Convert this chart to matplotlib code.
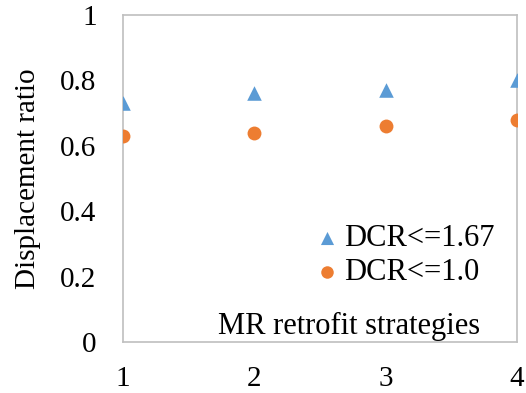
import matplotlib
matplotlib.use("Agg")
import matplotlib.pyplot as plt

strategies = [1, 2, 3, 4]
dcr_167 = [0.73, 0.76, 0.77, 0.80]
dcr_10 = [0.63, 0.64, 0.66, 0.68]
y_ticks = [0, 0.2, 0.4, 0.6, 0.8, 1]
y_tick_labels = ["0", "0.2", "0.4", "0.6", "0.8", "1"]

plt.rcParams['font.family'] = ['Liberation Serif', 'DejaVu Serif']
FS = 21

fig = plt.figure(figsize=(5.26, 3.93), dpi=100)
ax = fig.add_axes([123/526, 1 - 342/393, (517 - 123)/526, (342 - 15)/393])

ax.scatter(strategies, dcr_167, marker='^', s=110, color='#5B9BD5', label='DCR<=1.67', zorder=3, linewidths=0)
ax.scatter(strategies, dcr_10, marker='o', s=100, color='#ED7D31', label='DCR<=1.0', zorder=3, linewidths=0)

ax.set_xlim(1, 4)
ax.set_ylim(0, 1)
ax.set_xticks(strategies)
ax.set_yticks(y_ticks)
ax.set_yticklabels(y_tick_labels)
ax.tick_params(axis='y', length=0, labelsize=FS, pad=19)
ax.tick_params(axis='x', length=0, labelsize=FS, pad=17)

for sp in ax.spines.values():
    sp.set_color('#BFBFBF')
    sp.set_linewidth(1.2)

ax.set_ylabel('Displacement ratio', fontsize=FS, labelpad=14)
ax.text(0.574, 0.046, 'MR retrofit strategies', transform=ax.transAxes,
        fontsize=22, ha='center', va='center')

ax.legend(loc='center left', bbox_to_anchor=(0.487, 0.265), frameon=False,
          fontsize=22, handlelength=0.8, handletextpad=0.15, borderpad=0,
          borderaxespad=0, labelspacing=0.15, markerscale=0.9)

fig.savefig('out.png', dpi=100)
